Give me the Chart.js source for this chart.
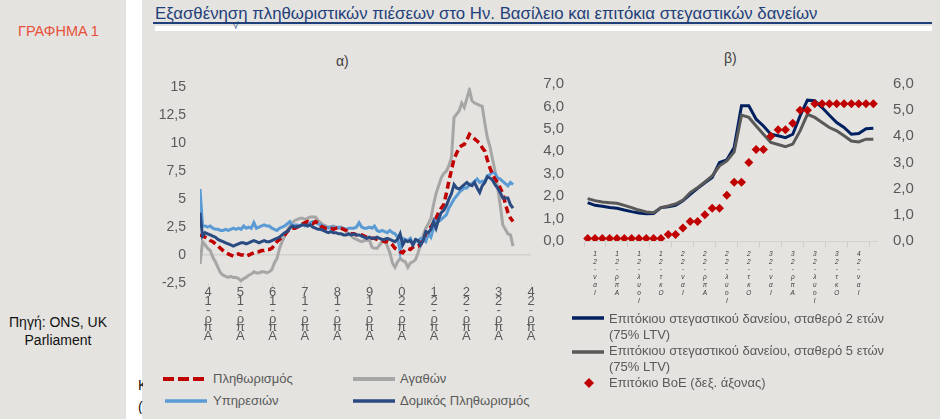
<!DOCTYPE html>
<html lang="el">
<head>
<meta charset="utf-8">
<script src="https://cdn.jsdelivr.net/npm/chart.js@4.4.1/dist/chart.umd.min.js"></script>
<style>
  html, body { margin: 0; padding: 0; }
  body { width: 940px; height: 419px; background: #e4e3df; position: relative; overflow: hidden;
         font-family: "Liberation Sans", Arial, sans-serif; }
  .abs { position: absolute; }
  #strip { left: 126px; top: 0; width: 16px; height: 419px; background: #fff; }
  #fig { left: 18px; top: 23px; font-size: 14.5px; color: #e8503a; }
  #src { left: 0; top: 313px; width: 116px; text-align: center; font-size: 14px; line-height: 18px; color: #111; }
  #title { left: 155px; top: 4px; font-size: 16.8px; color: #1f3f7a; white-space: nowrap; }
  #rule { left: 153px; top: 22px; width: 779px; height: 2px; background: #1f3f7a; }
  #band { left: 155px; top: 26px; width: 777px; height: 5px; background: #fff; }
  #tick { left: 233px; top: 20px; font-size: 10px; color: #1f3f7a; }
  .sub { font-size: 14px; color: #404040; }
  .lg { font-size: 13px; color: #595959; white-space: nowrap; line-height: 16px; }
  #clip { left: 138px; top: 374px; width: 5px; height: 40px; overflow: hidden; font-size: 14px; line-height: 22px; color: #111; }
  canvas { position: absolute; }
</style>
</head>
<body>
<div id="strip" class="abs"></div>
<div id="fig" class="abs">ΓΡΑΦΗΜΑ 1</div>
<div id="src" class="abs">Πηγή: ONS, UK<br>Parliament</div>
<div id="title" class="abs">Εξασθένηση πληθωριστικών πιέσεων στο Ην. Βασίλειο και επιτόκια στεγαστικών δανείων</div>
<div id="rule" class="abs"></div>
<div id="band" class="abs"></div>
<div id="tick" class="abs">√</div>
<div id="clip" class="abs">Κ<br>(</div>

<div class="abs sub" style="left:336px; top:53px;">α)</div>
<div class="abs sub" style="left:724px; top:50px;">β)</div>

<canvas id="leftChart" width="395" height="302" style="left:150px; top:65px;"></canvas>
<canvas id="rightChart" width="400" height="241" style="left:540px; top:63px;"></canvas>

<!-- legend a) -->
<svg class="abs" style="left:160px; top:372px;" width="240" height="40">
  <line x1="3" y1="7" x2="45" y2="7" stroke="#c00000" stroke-width="4" stroke-dasharray="11,4"/>
  <line x1="193" y1="7" x2="235" y2="7" stroke="#a6a6a6" stroke-width="4"/>
  <line x1="5" y1="29" x2="47" y2="29" stroke="#5b9bd5" stroke-width="3.5"/>
  <line x1="193" y1="29" x2="235" y2="29" stroke="#2a4a82" stroke-width="3.5"/>
</svg>
<div class="abs lg" style="left:213px; top:371px;">Πληθωρισμός</div>
<div class="abs lg" style="left:400px; top:371px;">Αγαθών</div>
<div class="abs lg" style="left:213px; top:393px;">Υπηρεσιών</div>
<div class="abs lg" style="left:400px; top:393px;">Δομικός Πληθωρισμός</div>

<!-- legend b) -->
<svg class="abs" style="left:570px; top:310px;" width="36" height="80">
  <line x1="2" y1="8" x2="34" y2="8" stroke="#002060" stroke-width="3.5"/>
  <line x1="2" y1="42" x2="34" y2="42" stroke="#595959" stroke-width="3.5"/>
  <polygon points="19,68 24,73 19,78 14,73" fill="#c00000"/>
</svg>
<div class="abs lg" style="left:609px; top:311px;">Επιτόκιου στεγαστικού δανείου, σταθερό 2 ετών<br>(75% LTV)</div>
<div class="abs lg" style="left:609px; top:343px;">Επιτόκιου στεγαστικού δανείου, σταθερό 5 ετών<br>(75% LTV)</div>
<div class="abs lg" style="left:609px; top:375px;">Επιτόκιο BoE (δεξ. άξονας)</div>

<script>
// ---- chart a): annual inflation rates, monthly Jan-2014 .. Mar-2024 (%)
const leftTicks = ['Απρ-14', 'Απρ-15', 'Απρ-16', 'Απρ-17', 'Απρ-18', 'Απρ-19',
                   'Απρ-20', 'Απρ-21', 'Απρ-22', 'Απρ-23', 'Απρ-24'];

const cpi = [
  1.8, 1.7, 1.6, 1.5, 1.3, 1.2, 1.0, 0.8, 0.6, 0.4, 0.2, 0.1,
  0.0, -0.1, 0.0, 0.1, 0.0, 0.0, -0.1, 0.0, 0.1, 0.2, 0.3, 0.3,
  0.4, 0.4, 0.5, 0.5, 0.6, 0.9, 1.2, 1.4, 1.6, 1.8, 2.1, 2.3,
  2.4, 2.4, 2.5, 2.7, 2.8, 2.9, 3.0, 2.9, 2.8, 3.0, 2.9, 2.6,
  2.5, 2.4, 2.4, 2.4, 2.3, 2.4, 2.5, 2.4, 2.3, 2.2, 2.0, 1.9,
  1.9, 1.8, 1.9, 1.8, 1.7, 1.6, 1.6, 1.5, 1.5, 1.4, 1.3, 1.3,
  1.2, 1.2, 1.1, 0.9, 0.6, 0.5, 0.3, 0.2, 0.5, 0.6, 0.5, 0.7,
  0.8, 0.8, 1.0, 1.4, 1.9, 2.4, 2.5, 2.9, 3.3, 3.8, 4.2, 4.5,
  5.5, 6.6, 7.6, 8.6, 9.1, 9.6, 9.8, 9.9, 10.3, 10.8, 10.6, 10.4,
  10.2, 10.0, 9.6, 9.3, 8.5, 7.8, 7.2, 6.8, 6.5, 6.0, 5.5, 4.6,
  3.8, 3.3, 3.0
];

const goods = [
  -0.8, 1.2, 0.9, 0.6, 0.4, -0.2, -0.6, -1.1, -1.6, -1.8, -1.9, -2.0,
  -1.9, -2.0, -2.0, -2.1, -2.3, -2.1, -2.0, -1.8, -1.7, -1.5, -1.6, -1.6,
  -1.5, -1.5, -1.6, -1.5, -1.3, -0.7, -0.3, 0.6, 1.2, 1.7, 2.2, 2.6,
  2.9, 3.1, 3.2, 3.3, 3.3, 3.2, 3.3, 3.4, 3.4, 3.4, 3.1, 2.9,
  2.7, 2.6, 2.5, 2.5, 2.6, 2.5, 2.4, 2.5, 2.3, 2.1, 1.9, 1.7,
  1.5, 1.4, 1.3, 1.2, 1.3, 1.3, 1.4, 0.7, 0.6, 0.6, 0.9, 1.2,
  1.4, 0.8, 0.2, -0.7, -1.1, -0.6, -0.3, -0.5, -0.6, -1.1, -0.7, -0.6,
  -0.4, 0.2, 1.0, 1.8, 2.4, 2.8, 3.3, 4.5, 5.5, 6.2, 6.9, 7.3,
  7.5, 8.0, 8.7, 12.3, 12.6, 12.9, 13.6, 13.2, 14.0, 14.8, 13.8, 13.6,
  13.5, 13.4, 13.3, 11.8, 10.5, 9.7, 8.6, 7.5, 6.0, 4.5, 2.7, 2.3,
  1.9, 1.8, 0.8
];

const services = [
  5.9, 2.6, 2.6, 2.5, 2.6, 2.4, 2.3, 2.3, 2.2, 2.2, 2.3, 2.2,
  2.3, 2.4, 2.3, 2.4, 2.3, 2.6, 2.4, 2.5, 2.4, 2.9, 2.4, 2.5,
  2.6, 2.7, 2.6, 2.6, 2.4, 2.3, 2.2, 2.4, 2.5, 2.6, 2.8, 3.0,
  2.6, 2.7, 2.7, 2.6, 2.8, 2.6, 2.7, 2.9, 3.0, 2.9, 2.8, 2.7,
  2.6, 2.5, 2.4, 2.5, 2.5, 2.4, 2.5, 2.4, 2.4, 2.3, 2.4, 2.4,
  2.4, 2.5, 2.9, 2.5, 2.4, 2.4, 2.5, 2.4, 2.6, 2.2, 2.1, 2.2,
  2.1, 2.0, 2.2, 2.0, 1.9, 1.6, 0.3, 1.5, 1.4, 1.3, 1.5, 0.9,
  1.3, 1.2, 1.5, 1.4, 1.2, 1.9, 1.6, 2.4, 3.3, 3.0, 3.2, 3.4,
  3.6, 4.2, 4.6, 5.0, 5.3, 5.6, 5.8, 6.0, 6.0, 6.3, 6.4, 6.6,
  6.8, 6.5, 6.6, 6.6, 7.1, 7.2, 7.4, 7.3, 6.9, 6.8, 6.6, 6.4,
  6.2, 6.5, 6.3
];

const core = [
  3.8, 1.7, 2.0, 1.9, 1.8, 1.7, 1.6, 1.4, 1.3, 1.2, 1.1, 1.0,
  0.9, 0.8, 0.9, 1.0, 1.1, 1.1, 1.0, 1.1, 1.2, 1.3, 1.2, 1.1,
  1.2, 1.3, 1.2, 1.2, 1.3, 1.4, 1.5, 1.6, 1.8, 2.0, 2.1, 2.4,
  2.6, 2.5, 2.5, 2.6, 2.7, 2.7, 2.6, 2.7, 2.5, 2.4, 2.3, 2.3,
  2.2, 2.1, 2.0, 2.1, 2.0, 2.0, 1.9, 1.9, 1.8, 1.8, 1.9, 1.8,
  1.9, 1.8, 1.8, 1.7, 1.6, 1.5, 1.6, 1.5, 1.5, 1.6, 1.5, 1.4,
  1.4, 1.5, 1.4, 1.3, 1.2, 1.4, 1.9, 0.9, 1.3, 1.2, 1.3, 0.9,
  1.4, 1.3, 0.9, 1.3, 2.1, 2.0, 2.3, 3.0, 2.4, 3.2, 3.8, 4.0,
  4.4, 5.0, 5.5, 6.3, 6.0, 5.9, 6.1, 6.3, 6.5, 6.3, 6.2, 6.5,
  6.0, 5.6, 6.2, 6.5, 7.0, 6.9, 6.7, 6.3, 6.0, 5.6, 5.1, 5.1,
  5.1, 4.5, 4.2
];

// ---- chart b): mortgage rates (left axis) and Bank Rate (right axis), Jan-2021 .. Apr-2024
const months = [
  'Ιαν-21', 'Φεβ-21', 'Μαρ-21', 'Απρ-21', 'Μαΐ-21', 'Ιουν-21', 'Ιουλ-21', 'Αυγ-21', 'Σεπ-21', 'Οκτ-21', 'Νοε-21', 'Δεκ-21',
  'Ιαν-22', 'Φεβ-22', 'Μαρ-22', 'Απρ-22', 'Μαΐ-22', 'Ιουν-22', 'Ιουλ-22', 'Αυγ-22', 'Σεπ-22', 'Οκτ-22', 'Νοε-22', 'Δεκ-22',
  'Ιαν-23', 'Φεβ-23', 'Μαρ-23', 'Απρ-23', 'Μαΐ-23', 'Ιουν-23', 'Ιουλ-23', 'Αυγ-23', 'Σεπ-23', 'Οκτ-23', 'Νοε-23', 'Δεκ-23',
  'Ιαν-24', 'Φεβ-24', 'Μαρ-24', 'Απρ-24'
];

const fixed2y = [
  1.71, 1.59, 1.55, 1.49, 1.46, 1.38, 1.31, 1.25, 1.21, 1.22, 1.49, 1.53,
  1.59, 1.79, 2.08, 2.35, 2.60, 2.83, 3.50, 3.62, 4.17, 6.03, 6.03, 5.43,
  5.13, 4.76, 4.69, 4.61, 4.76, 5.58, 6.28, 6.25, 5.95, 5.61, 5.28, 5.06,
  4.76, 4.79, 5.01, 5.03
];

const fixed5y = [
  1.89, 1.80, 1.74, 1.71, 1.68, 1.59, 1.49, 1.38, 1.29, 1.26, 1.49, 1.56,
  1.65, 1.82, 2.16, 2.38, 2.63, 2.90, 3.35, 3.57, 3.97, 5.61, 5.51, 5.13,
  4.76, 4.39, 4.30, 4.21, 4.32, 4.91, 5.65, 5.51, 5.28, 5.06, 4.91, 4.69,
  4.46, 4.42, 4.54, 4.54
];

const bankRate = [
  0.10, 0.10, 0.10, 0.10, 0.10, 0.10, 0.10, 0.10, 0.10, 0.10, 0.10, 0.25,
  0.25, 0.50, 0.75, 0.75, 1.00, 1.25, 1.25, 1.75, 2.25, 2.25, 3.00, 3.50,
  3.50, 4.00, 4.25, 4.25, 4.50, 5.00, 5.00, 5.25, 5.25, 5.25, 5.25, 5.25,
  5.25, 5.25, 5.25, 5.25
];

const FONT = '"Liberation Sans", Arial, sans-serif';
const GREY_TXT = '#595959';
const comma = v => String(v).replace('.', ',');
const stacked = s => s.split('').reverse();
const pts = arr => arr.map((v, i) => ({ x: i, y: v }));

new Chart(document.getElementById('leftChart'), {
  type: 'line',
  data: {
    datasets: [
      { label: 'Δομικός Πληθωρισμός', data: pts(core), borderColor: '#2a4a82', borderWidth: 3 },
      { label: 'Πληθωρισμός', data: pts(cpi), borderColor: '#c00000', borderWidth: 3.5, borderDash: [7, 4] },
      { label: 'Υπηρεσιών', data: pts(services), borderColor: '#5b9bd5', borderWidth: 3 },
      { label: 'Αγαθών', data: pts(goods), borderColor: '#a6a6a6', borderWidth: 3 }
    ]
  },
  options: {
    responsive: false,
    animation: false,
    layout: { padding: { top: 0, right: 14, left: 0, bottom: 0 } },
    elements: { point: { radius: 0 }, line: { tension: 0, borderCapStyle: 'butt' } },
    plugins: { legend: { display: false }, tooltip: { enabled: false } },
    scales: {
      x: { type: 'linear', display: false, min: 0, max: 129 },
      xl: {
        type: 'linear', position: 'bottom', min: -0.25, max: 10,
        afterBuildTicks: s => { s.ticks = leftTicks.map((_, i) => ({ value: i })); },
        afterFit: s => { s.height = 84; },
        grid: { display: true, drawOnChartArea: false, tickLength: 4, color: '#cfcecb' },
        border: { display: false },
        ticks: {
          autoSkip: false, maxRotation: 0, minRotation: 0, padding: 1,
          color: GREY_TXT, font: { family: FONT, size: 13, lineHeight: 0.68 },
          callback: v => stacked(leftTicks[v] || '')
        }
      },
      y: {
        min: -2.5, max: 15,
        afterFit: s => { s.width = 50; },
        grid: { drawTicks: false, color: c => c.tick && c.tick.value === 0 ? '#d3d2ce' : 'transparent', lineWidth: 1.5 },
        border: { display: false },
        ticks: { stepSize: 2.5, autoSkip: false, padding: 14, color: GREY_TXT, font: { family: FONT, size: 14 }, callback: v => comma(v) }
      }
    }
  }
});

new Chart(document.getElementById('rightChart'), {
  type: 'line',
  data: {
    labels: months,
    datasets: [
      { label: 'Επιτόκιο BoE (δεξ. άξονας)', data: bankRate, yAxisID: 'y2', showLine: false,
        pointStyle: 'rectRot', pointRadius: 4.5, pointBackgroundColor: '#c00000', pointBorderWidth: 0 },
      { label: 'Επιτόκιου στεγαστικού δανείου, σταθερό 5 ετών (75% LTV)', data: fixed5y, yAxisID: 'y',
        borderColor: '#595959', borderWidth: 3, pointRadius: 0 },
      { label: 'Επιτόκιου στεγαστικού δανείου, σταθερό 2 ετών (75% LTV)', data: fixed2y, yAxisID: 'y',
        borderColor: '#002060', borderWidth: 3, pointRadius: 0 }
    ]
  },
  options: {
    responsive: false,
    animation: false,
    layout: { padding: { top: 1, right: 0, left: 0, bottom: 0 } },
    elements: { line: { tension: 0 } },
    plugins: { legend: { display: false }, tooltip: { enabled: false } },
    scales: {
      x: {
        offset: true,
        afterFit: s => { s.height = 63; },
        grid: { display: true, offset: true, drawOnChartArea: false, tickLength: 6,
                color: c => (c.index !== undefined && c.index % 3 === 0) ? '#cfcecb' : 'transparent' },
        border: { display: true, color: '#d3d2ce', width: 1 },
        ticks: {
          autoSkip: false, maxRotation: 0, minRotation: 0, padding: 3,
          color: '#3a3a3a', font: { family: FONT, size: 6.5, style: 'italic', lineHeight: 1.2 },
          callback: (v, i) => i % 3 === 1 ? stacked(months[i - 1]) : ''
        }
      },
      y: {
        position: 'left', min: 0, max: 7,
        afterFit: s => { s.width = 44; },
        grid: { display: false },
        border: { display: false },
        ticks: { stepSize: 1, autoSkip: false, padding: 12, color: GREY_TXT, font: { family: FONT, size: 15 }, callback: v => v.toFixed(1).replace('.', ',') }
      },
      y2: {
        position: 'right', min: 0, max: 6,
        afterFit: s => { s.width = 63; },
        grid: { display: false },
        border: { display: false },
        ticks: { stepSize: 1, autoSkip: false, padding: 8, color: GREY_TXT, font: { family: FONT, size: 15 }, callback: v => v.toFixed(1).replace('.', ',') }
      }
    }
  }
});
</script>
</body>
</html>
